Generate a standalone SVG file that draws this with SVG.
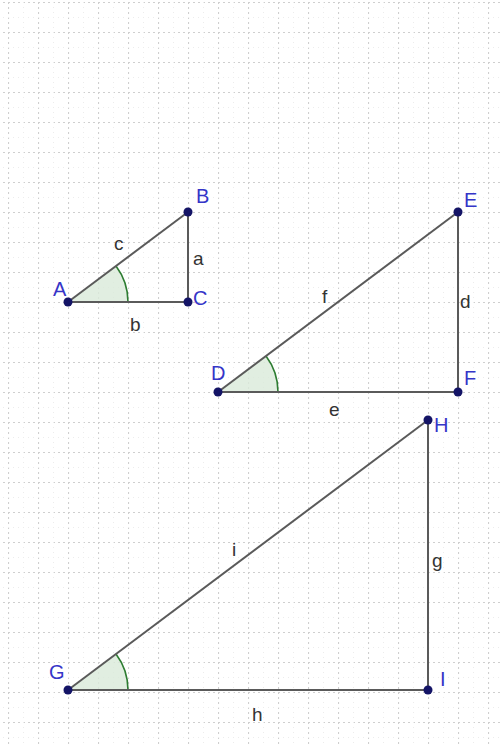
<svg xmlns="http://www.w3.org/2000/svg" width="501" height="744" viewBox="0 0 501 744">
<defs>
<pattern id="grid" patternUnits="userSpaceOnUse" x="8" y="2" width="30" height="30">
<line x1="0.5" y1="0" x2="0.5" y2="30" stroke="#cfcfcf" stroke-width="1.2" stroke-dasharray="2,3"/>
<line x1="0" y1="0.5" x2="30" y2="0.5" stroke="#cfcfcf" stroke-width="1.2" stroke-dasharray="2,3"/>
<line x1="15.5" y1="0" x2="15.5" y2="30" stroke="#ececec" stroke-width="1" stroke-dasharray="1,4"/>
<line x1="0" y1="15.5" x2="30" y2="15.5" stroke="#ececec" stroke-width="1" stroke-dasharray="1,4"/>
</pattern>
</defs>
<style>
.seg{stroke:#5a5a5a;stroke-width:2;fill:none}
.ang{fill:#d9ead9;fill-opacity:0.8;stroke:none}
.arc{fill:none;stroke:#2e7d32;stroke-width:1.6}
.pt{fill:#141466}
.pl{font-family:"Liberation Sans",Arial,sans-serif;font-size:20px;fill:#3535c8}
.sl{font-family:"Liberation Sans",Arial,sans-serif;font-size:19px;fill:#333}
</style>
<rect width="501" height="744" fill="#ffffff"/>
<rect width="501" height="744" fill="url(#grid)"/>

<g id="angles">
<path class="ang" d="M68,302 L128,302 A60,60 0 0 0 116,266 Z"/>
<path class="arc" d="M128,302 A60,60 0 0 0 116,266"/>
<path class="ang" d="M218,392 L278,392 A60,60 0 0 0 266,356 Z"/>
<path class="arc" d="M278,392 A60,60 0 0 0 266,356"/>
<path class="ang" d="M68,690 L128,690 A60,60 0 0 0 116,654 Z"/>
<path class="arc" d="M128,690 A60,60 0 0 0 116,654"/>
</g>

<g id="connectors">
<line class="seg" x1="68" y1="302" x2="188" y2="212"/>
<line class="seg" x1="188" y1="212" x2="188" y2="302"/>
<line class="seg" x1="68" y1="302" x2="188" y2="302"/>
<line class="seg" x1="218" y1="392" x2="458" y2="212"/>
<line class="seg" x1="458" y1="212" x2="458" y2="392"/>
<line class="seg" x1="218" y1="392" x2="458" y2="392"/>
<line class="seg" x1="68" y1="690" x2="428" y2="420"/>
<line class="seg" x1="428" y1="420" x2="428" y2="690"/>
<line class="seg" x1="68" y1="690" x2="428" y2="690"/>
</g>

<g id="segment-labels">
<text class="sl" x="114" y="250">c</text>
<text class="sl" x="193" y="265">a</text>
<text class="sl" x="130" y="331">b</text>
<text class="sl" x="322" y="303">f</text>
<text class="sl" x="460" y="308">d</text>
<text class="sl" x="329" y="416">e</text>
<text class="sl" x="232" y="556">i</text>
<text class="sl" x="432" y="567">g</text>
<text class="sl" x="252" y="721">h</text>
</g>

<g id="A"><circle class="pt" cx="68" cy="302" r="4.5"/><text class="pl" x="53" y="296">A</text></g>
<g id="B"><circle class="pt" cx="188" cy="212" r="4.5"/><text class="pl" x="196" y="203">B</text></g>
<g id="C"><circle class="pt" cx="188" cy="302" r="4.5"/><text class="pl" x="193" y="305">C</text></g>
<g id="D"><circle class="pt" cx="218" cy="392" r="4.5"/><text class="pl" x="211" y="380">D</text></g>
<g id="E"><circle class="pt" cx="458" cy="212" r="4.5"/><text class="pl" x="464" y="207">E</text></g>
<g id="F"><circle class="pt" cx="458" cy="392" r="4.5"/><text class="pl" x="464" y="385">F</text></g>
<g id="G"><circle class="pt" cx="68" cy="690" r="4.5"/><text class="pl" x="49" y="679">G</text></g>
<g id="H"><circle class="pt" cx="428" cy="420" r="4.5"/><text class="pl" x="434" y="432">H</text></g>
<g id="I"><circle class="pt" cx="428" cy="690" r="4.5"/><text class="pl" x="440" y="686">I</text></g>
</svg>
